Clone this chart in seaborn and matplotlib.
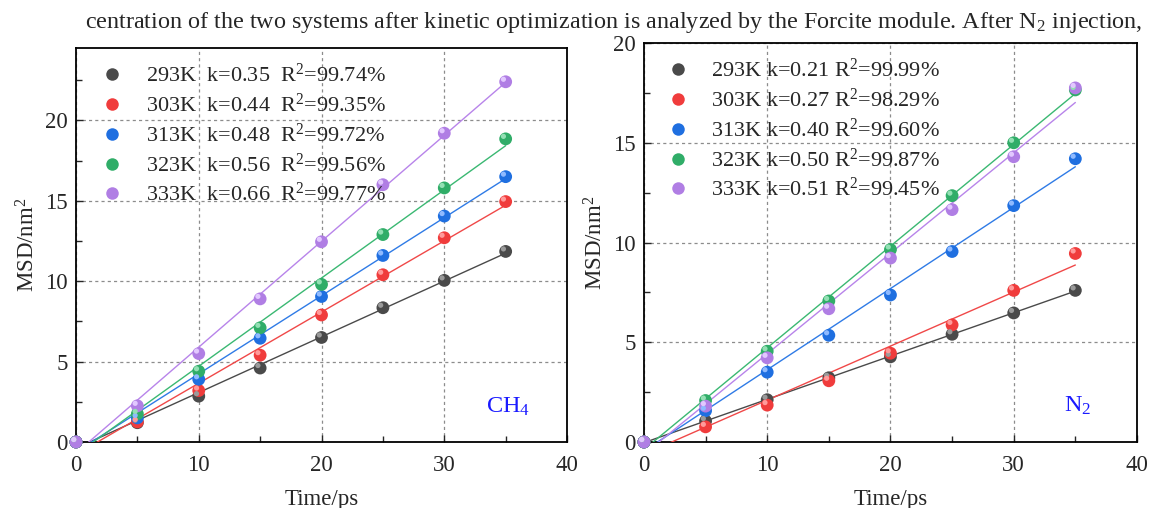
import numpy as np
import pandas as pd
import matplotlib
matplotlib.use("Agg")
import matplotlib.pyplot as plt
import matplotlib.transforms as mtransforms
from matplotlib.lines import Line2D
from matplotlib.ticker import MultipleLocator
import seaborn as sns

# ---------------- data ----------------
time_ps = [0, 5, 10, 15, 20, 25, 30, 35]
temps = ["293K", "303K", "313K", "323K", "333K"]

ch4_293 = [0, 1.20, 2.85, 4.60, 6.50, 8.35, 10.05, 11.85]
ch4_303 = [0, 1.25, 3.20, 5.40, 7.90, 10.40, 12.70, 14.95]
ch4_313 = [0, 1.50, 3.90, 6.45, 9.05, 11.60, 14.05, 16.50]
ch4_323 = [0, 1.75, 4.40, 7.10, 9.80, 12.90, 15.80, 18.85]
ch4_333 = [0, 2.25, 5.50, 8.90, 12.45, 16.00, 19.20, 22.40]

n2_293 = [0, 1.05, 2.12, 3.22, 4.27, 5.40, 6.47, 7.60]
n2_303 = [0, 0.76, 1.85, 3.07, 4.45, 5.87, 7.60, 9.45]
n2_313 = [0, 1.57, 3.50, 5.35, 7.37, 9.55, 11.85, 14.20]
n2_323 = [0, 2.08, 4.55, 7.07, 9.65, 12.35, 15.00, 17.65]
n2_333 = [0, 1.80, 4.22, 6.68, 9.22, 11.65, 14.30, 17.75]

ch4_k = ["0.35", "0.44", "0.48", "0.56", "0.66"]
ch4_r2 = ["99.74", "99.35", "99.72", "99.56", "99.77"]
n2_k = ["0.21", "0.27", "0.40", "0.50", "0.51"]
n2_r2 = ["99.99", "98.29", "99.60", "99.87", "99.45"]

caption = ("centration of the two systems after kinetic optimization is analyzed "
           "by the Forcite module. After N$_2$ injection,")

# ---------------- style ----------------
sns.set_style("ticks")
plt.rcParams["font.family"] = ["Liberation Serif", "DejaVu Serif"]
plt.rcParams["mathtext.fontset"] = "custom"
plt.rcParams["mathtext.rm"] = "Liberation Serif"
plt.rcParams["mathtext.it"] = "Liberation Serif:italic"
plt.rcParams["mathtext.bf"] = "Liberation Serif:bold"

point_colors = ["#4a4a4a", "#f03c3c", "#1f6fe0", "#30ad68", "#b07ee4"]
light_colors = ["#9a9a9a", "#ff9a9a", "#8fbaff", "#93e0b4", "#e2c8ff"]
line_colors = ["#4a4a4a", "#f04848", "#2f7be6", "#3ab872", "#b884ea"]

fig = plt.figure(figsize=(11.53, 5.08), dpi=100)
axL = fig.add_axes([0.0659, 0.1299, 0.4259, 0.7756])
axR = fig.add_axes([0.5585, 0.1299, 0.4276, 0.7854])

fig.text(0.5326, 0.955, caption, ha="center", va="center", fontsize=17.4)


def draw(ax, series, ks, r2s, ymax, label_txt, sep, anchor_x):
    rows = []
    for name, vals in zip(temps, series):
        for t, v in zip(time_ps, vals):
            rows.append({"t": t, "msd": v, "T": name})
    df = pd.DataFrame(rows)

    # fitted lines
    fit_rows = []
    for name, vals in zip(temps, series):
        k, b = np.polyfit(time_ps, vals, 1)
        for t in (0, 35):
            fit_rows.append({"t": t, "msd": k * t + b, "T": name})
    fdf = pd.DataFrame(fit_rows)
    sns.lineplot(data=fdf, x="t", y="msd", hue="T", palette=line_colors,
                 ax=ax, linewidth=1.0, legend=False, zorder=3)

    sns.scatterplot(data=df, x="t", y="msd", hue="T", palette=point_colors,
                    ax=ax, s=85, edgecolor="none", legend=False, zorder=4,
                    clip_on=False)
    hl = mtransforms.offset_copy(ax.transData, fig=fig, x=-1.6, y=1.8, units="points")
    sns.scatterplot(data=df, x="t", y="msd", hue="T", palette=light_colors,
                    ax=ax, s=14, edgecolor="none", legend=False, zorder=5,
                    transform=hl, clip_on=False)

    ax.set_xlim(0, 40)
    ax.set_ylim(0, ymax)
    ax.xaxis.set_major_locator(MultipleLocator(10))
    ax.xaxis.set_minor_locator(MultipleLocator(5))
    ax.yaxis.set_major_locator(MultipleLocator(5))
    ax.yaxis.set_minor_locator(MultipleLocator(2.5))
    ax.tick_params(axis="both", which="both", direction="in", labelsize=16.5,
                   top=False, right=False)
    ax.tick_params(which="major", length=5, width=1.0)
    ax.tick_params(which="minor", length=4, width=1.0)
    ax.tick_params(axis="x", pad=9)
    ax.tick_params(axis="y", pad=6)
    ax.grid(True, which="major", linestyle=(0, (2.5, 2.5)), color="#8c8c8c",
            linewidth=0.9)
    ax.set_axisbelow(True)
    for sp in ax.spines.values():
        sp.set_visible(True)
        sp.set_linewidth(1.3)
        sp.set_color("black")
    ax.set_xlabel("Time/ps", fontsize=16.5, labelpad=9.5)
    ax.set_ylabel("MSD/nm$^2$", fontsize=16.5, labelpad=4)

    handles = []
    for c, lc, name, k, r in zip(point_colors, light_colors, temps, ks, r2s):
        handles.append(Line2D([], [], linestyle="none", marker="o", markersize=9,
                              markerfacecolor=c, markeredgecolor="none",
                              label=f"{name}{sep}k={k}{sep}R$^2$={r}%"))
    ax.legend(handles=handles, loc="upper left", frameon=False,
              fontsize=16, handlelength=1.0, handletextpad=1.0,
              labelspacing=0.3, borderaxespad=0.3,
              bbox_to_anchor=(anchor_x, 1.0))
    ax.text(0.88, 0.09, label_txt, transform=ax.transAxes, color="#1a1aff",
            fontsize=17.5, ha="center", va="center")


draw(axL, [ch4_293, ch4_303, ch4_313, ch4_323, ch4_333], ch4_k, ch4_r2,
     24.5, "CH$_4$", "  ", 0.02)
draw(axR, [n2_293, n2_303, n2_313, n2_323, n2_333], n2_k, n2_r2,
     20, "N$_2$", " ", 0.015)

fig.savefig("out.png", dpi=100)
